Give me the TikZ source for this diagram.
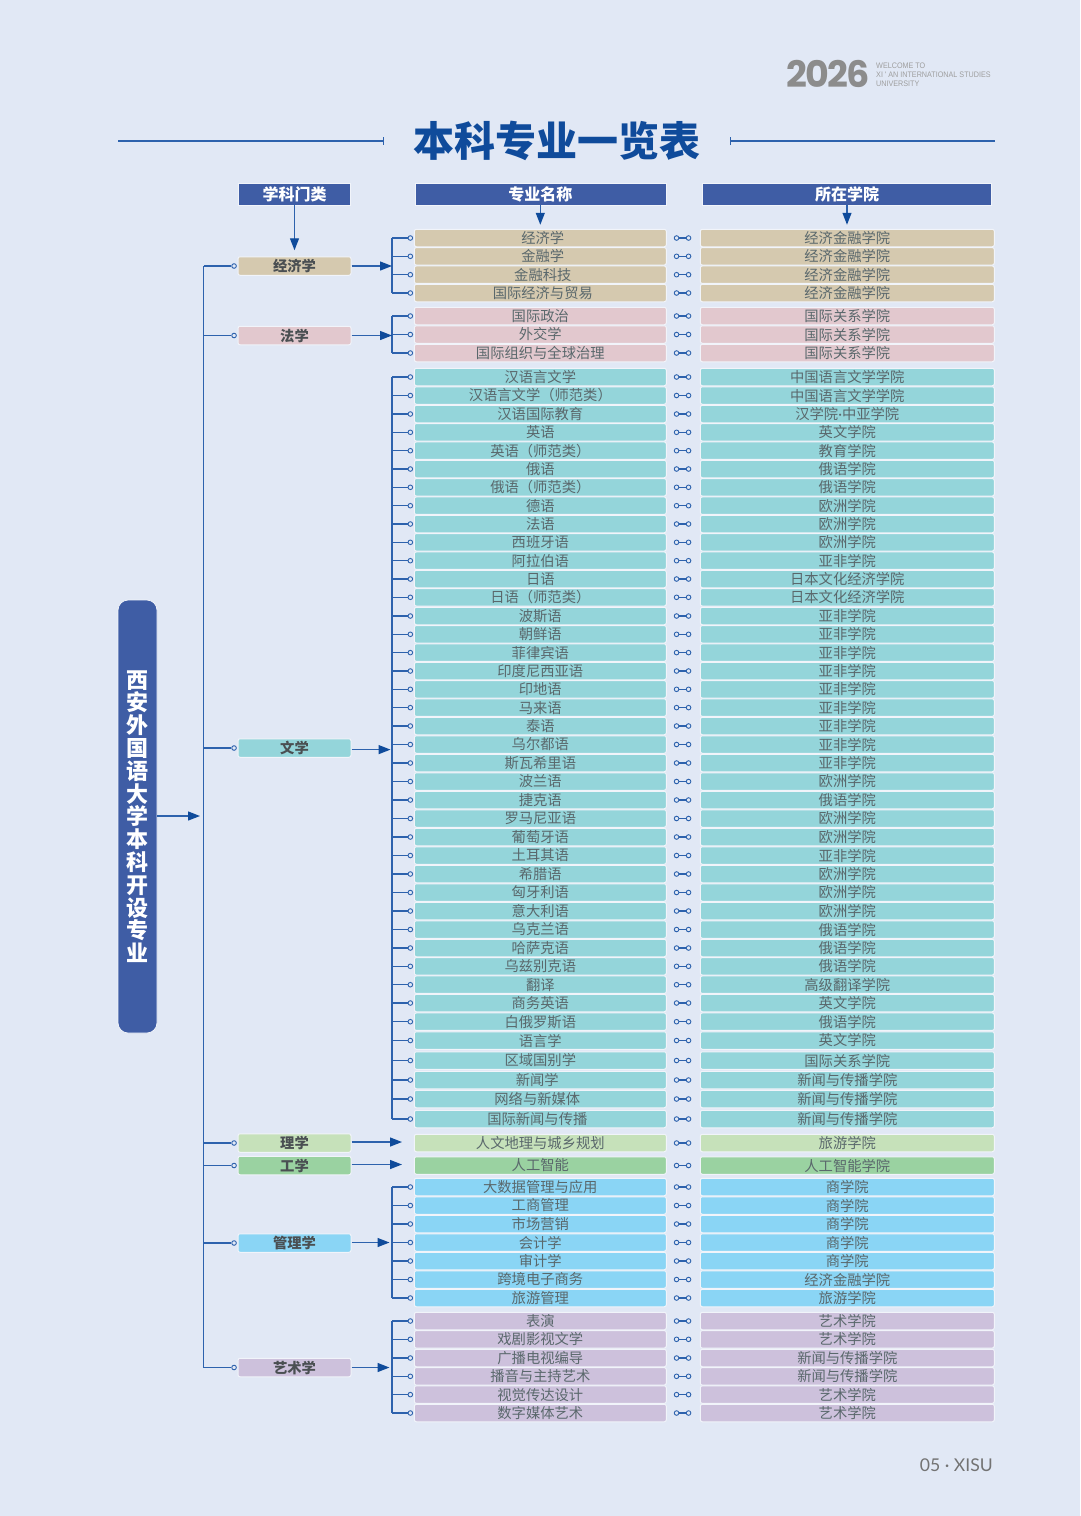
\documentclass[tikz,border=0pt]{standalone}
\usepackage{fontspec}
\setmainfont{Noto Sans CJK SC}
\newfontfamily\latinfont{Lato}
\newfontfamily\heavyfont{Noto Sans CJK SC Black}
\newfontfamily\logofont[LetterSpace=-5]{Poppins}
\newfontfamily\smallfont[FakeStretch=.9]{Liberation Sans}
\usetikzlibrary{positioning,calc,arrows.meta}
\definecolor{pagebg}{HTML}{E1E8F5}
\definecolor{headblue}{HTML}{3F5DA5}
\definecolor{linkblue}{HTML}{2D62AD}
\definecolor{tipblue}{HTML}{0F4B9B}
\definecolor{boxedge}{HTML}{F1F4FA}
\definecolor{rowtext}{HTML}{5A686C}
\definecolor{cattext}{HTML}{4A4F52}
\definecolor{econfill}{HTML}{D5C9AF}
\definecolor{lawfill}{HTML}{E2C8CE}
\definecolor{litfill}{HTML}{94D5DA}
\definecolor{scifill}{HTML}{C6E1BA}
\definecolor{engfill}{HTML}{9AD2A1}
\definecolor{mgtfill}{HTML}{8AD5F5}
\definecolor{artfill}{HTML}{CDC1DC}
\begin{document}
\begin{tikzpicture}[x=1pt,y=-1pt]
    \tikzstyle{every node}=[inner sep=0]
    \tikzstyle{cell}=[rectangle,draw=boxedge,line width=1,rounded corners=2,minimum height=17.5,text=rowtext,font=\fontsize{14.3}{15}\selectfont]
    \tikzstyle{major}=[cell,minimum width=252]
    \tikzstyle{college}=[cell,minimum width=294]
    \tikzstyle{cat}=[cell,minimum width=113,minimum height=18.5,text=cattext,font=\fontsize{14.3}{15}\selectfont\bfseries]
    \tikzstyle{head}=[rectangle,fill=headblue,draw=boxedge,line width=.6,minimum height=22,text=white,font=\fontsize{16}{17}\selectfont\bfseries]
    \tikzstyle{hole}=[circle,draw=linkblue,fill=pagebg,line width=.9,minimum size=4.6]
    \tikzstyle{link}=[draw=linkblue,line width=1.3]
    \tikzstyle{flow}=[link,-{Stealth[length=12pt,width=9pt,inset=0pt,color=tipblue]}]
    \tikzstyle{econ}=[fill=econfill]
    \tikzstyle{law}=[fill=lawfill]
    \tikzstyle{lit}=[fill=litfill]
    \tikzstyle{sci}=[fill=scifill]
    \tikzstyle{eng}=[fill=engfill]
    \tikzstyle{mgt}=[fill=mgtfill]
    \tikzstyle{art}=[fill=artfill]
    \tikzstyle{toright}=[execute at begin node={\hspace*{5pt}}]
    \tikzstyle{toleft}=[execute at end node={\hspace*{6pt}}]

    \fill[pagebg] (0,0) rectangle (1080,1516);

    % logo and page number
    \node[text=black!45,font=\logofont\fontsize{36.5}{36}\selectfont\bfseries] (logo) at (828,74) {2026};
    \node[anchor=west,align=left,text=black!38,font=\smallfont\fontsize{8}{9.2}\selectfont] (welcome) at (876,75) {WELCOME TO\\XI ' AN INTERNATIONAL STUDIES\\UNIVERSITY};
    \node[anchor=east,text=black!55,font=\latinfont\fontsize{17.6}{18}\selectfont] (pageno) at (993,1465) {05 · XISU};

    % title
    \node[text=tipblue,font=\heavyfont\fontsize{41}{42}\selectfont] (title) at (557,141) {本科专业一览表};
    \coordinate (rulea) at (118,141);
    \coordinate (ruleb) at (384,141);
    \coordinate (rulec) at (730,141);
    \coordinate (ruled) at (995,141);
    \draw[link,-{Bar[width=8pt,line width=.8pt]}] (rulea) -- (ruleb);
    \draw[link,{Bar[width=8pt,line width=.8pt]}-] (rulec) -- (ruled);

    % headers
    \node[head,minimum width=112] (hcat) at (294.5,194) {学科门类};
    \node[head,minimum width=251] (hmajor) at (540.3,194) {专业名称};
    \node[head,minimum width=289] (hcollege) at (847,194) {所在学院};

    % root
    \node[rectangle,rounded corners=10,fill=headblue,draw=boxedge,line width=.8,minimum width=39,minimum height=433,align=center,text=white,font=\fontsize{22}{22.8}\selectfont\bfseries] (root) at (137.5,816.5) {西\\安\\外\\国\\语\\大\\学\\本\\科\\开\\设\\专\\业};

    % categories
    \node[cat,econ] (cecon) at (294.5,266) {经济学};
    \node[cat,law] (claw) at (294.5,335.5) {法学};
    \node[cat,lit] (clit) at (294.5,748) {文学};
    \node[cat,sci] (csci) at (294.5,1143) {理学};
    \node[cat,eng] (ceng) at (294.5,1165.5) {工学};
    \node[cat,mgt] (cmgt) at (294.5,1243) {管理学};
    \node[cat,art] (cart) at (294.5,1367.5) {艺术学};

    % rows
    \node[major,econ,toright] (m1) at (540.3,238) {经济学}; \node[college,econ] (k1) at (847.3,238) {经济金融学院};
    \node[major,econ,toright] (m2) at (540.3,256.3) {金融学}; \node[college,econ] (k2) at (847.3,256.3) {经济金融学院};
    \node[major,econ,toright] (m3) at (540.3,274.7) {金融科技}; \node[college,econ] (k3) at (847.3,274.7) {经济金融学院};
    \node[major,econ,toright] (m4) at (540.3,293) {国际经济与贸易}; \node[college,econ] (k4) at (847.3,293) {经济金融学院};
    \node[major,law] (m5) at (540.3,316) {国际政治}; \node[college,law] (k5) at (847.3,316) {国际关系学院};
    \node[major,law] (m6) at (540.3,334.5) {外交学}; \node[college,law] (k6) at (847.3,334.5) {国际关系学院};
    \node[major,law] (m7) at (540.3,353) {国际组织与全球治理}; \node[college,law] (k7) at (847.3,353) {国际关系学院};
    \node[major,lit] (m8) at (540.3,377) {汉语言文学}; \node[college,lit] (k8) at (847.3,377) {中国语言文学学院};
    \node[major,lit] (m9) at (540.3,395.5) {汉语言文学（师范类）}; \node[college,lit] (k9) at (847.3,395.5) {中国语言文学学院};
    \node[major,lit] (m10) at (540.3,414) {汉语国际教育}; \node[college,lit] (k10) at (847.3,414) {汉学院{\latinfont ·}中亚学院};
    \node[major,lit] (m11) at (540.3,432.3) {英语}; \node[college,lit] (k11) at (847.3,432.3) {英文学院};
    \node[major,lit] (m12) at (540.3,450.7) {英语（师范类）}; \node[college,lit] (k12) at (847.3,450.7) {教育学院};
    \node[major,lit] (m13) at (540.3,469) {俄语}; \node[college,lit] (k13) at (847.3,469) {俄语学院};
    \node[major,lit] (m14) at (540.3,487.3) {俄语（师范类）}; \node[college,lit] (k14) at (847.3,487.3) {俄语学院};
    \node[major,lit] (m15) at (540.3,505.7) {德语}; \node[college,lit] (k15) at (847.3,505.7) {欧洲学院};
    \node[major,lit] (m16) at (540.3,524) {法语}; \node[college,lit] (k16) at (847.3,524) {欧洲学院};
    \node[major,lit] (m17) at (540.3,542.3) {西班牙语}; \node[college,lit] (k17) at (847.3,542.3) {欧洲学院};
    \node[major,lit] (m18) at (540.3,560.7) {阿拉伯语}; \node[college,lit] (k18) at (847.3,560.7) {亚非学院};
    \node[major,lit] (m19) at (540.3,579) {日语}; \node[college,lit] (k19) at (847.3,579) {日本文化经济学院};
    \node[major,lit] (m20) at (540.3,597.3) {日语（师范类）}; \node[college,lit] (k20) at (847.3,597.3) {日本文化经济学院};
    \node[major,lit] (m21) at (540.3,616) {波斯语}; \node[college,lit] (k21) at (847.3,616) {亚非学院};
    \node[major,lit] (m22) at (540.3,634.3) {朝鲜语}; \node[college,lit] (k22) at (847.3,634.3) {亚非学院};
    \node[major,lit] (m23) at (540.3,652.6) {菲律宾语}; \node[college,lit] (k23) at (847.3,652.6) {亚非学院};
    \node[major,lit] (m24) at (540.3,671) {印度尼西亚语}; \node[college,lit] (k24) at (847.3,671) {亚非学院};
    \node[major,lit] (m25) at (540.3,689.3) {印地语}; \node[college,lit] (k25) at (847.3,689.3) {亚非学院};
    \node[major,lit] (m26) at (540.3,707.6) {马来语}; \node[college,lit] (k26) at (847.3,707.6) {亚非学院};
    \node[major,lit] (m27) at (540.3,726) {泰语}; \node[college,lit] (k27) at (847.3,726) {亚非学院};
    \node[major,lit] (m28) at (540.3,744.5) {乌尔都语}; \node[college,lit] (k28) at (847.3,744.5) {亚非学院};
    \node[major,lit] (m29) at (540.3,763) {斯瓦希里语}; \node[college,lit] (k29) at (847.3,763) {亚非学院};
    \node[major,lit] (m30) at (540.3,781.5) {波兰语}; \node[college,lit] (k30) at (847.3,781.5) {欧洲学院};
    \node[major,lit] (m31) at (540.3,800) {捷克语}; \node[college,lit] (k31) at (847.3,800) {俄语学院};
    \node[major,lit] (m32) at (540.3,818.5) {罗马尼亚语}; \node[college,lit] (k32) at (847.3,818.5) {欧洲学院};
    \node[major,lit] (m33) at (540.3,837) {葡萄牙语}; \node[college,lit] (k33) at (847.3,837) {欧洲学院};
    \node[major,lit] (m34) at (540.3,855.5) {土耳其语}; \node[college,lit] (k34) at (847.3,855.5) {亚非学院};
    \node[major,lit] (m35) at (540.3,874) {希腊语}; \node[college,lit] (k35) at (847.3,874) {欧洲学院};
    \node[major,lit] (m36) at (540.3,892.5) {匈牙利语}; \node[college,lit] (k36) at (847.3,892.5) {欧洲学院};
    \node[major,lit] (m37) at (540.3,911) {意大利语}; \node[college,lit] (k37) at (847.3,911) {欧洲学院};
    \node[major,lit] (m38) at (540.3,929.5) {乌克兰语}; \node[college,lit] (k38) at (847.3,929.5) {俄语学院};
    \node[major,lit] (m39) at (540.3,948) {哈萨克语}; \node[college,lit] (k39) at (847.3,948) {俄语学院};
    \node[major,lit] (m40) at (540.3,966.3) {乌兹别克语}; \node[college,lit] (k40) at (847.3,966.3) {俄语学院};
    \node[major,lit] (m41) at (540.3,984.7) {翻译}; \node[college,lit] (k41) at (847.3,984.7) {高级翻译学院};
    \node[major,lit] (m42) at (540.3,1003) {商务英语}; \node[college,lit] (k42) at (847.3,1003) {英文学院};
    \node[major,lit] (m43) at (540.3,1021.7) {白俄罗斯语}; \node[college,lit] (k43) at (847.3,1021.7) {俄语学院};
    \node[major,lit] (m44) at (540.3,1040.5) {语言学}; \node[college,lit] (k44) at (847.3,1040.5) {英文学院};
    \node[major,lit] (m45) at (540.3,1060.5) {区域国别学}; \node[college,lit] (k45) at (847.3,1060.5) {国际关系学院};
    \node[major,lit,toleft] (m46) at (540.3,1080) {新闻学}; \node[college,lit] (k46) at (847.3,1080) {新闻与传播学院};
    \node[major,lit,toleft] (m47) at (540.3,1099) {网络与新媒体}; \node[college,lit] (k47) at (847.3,1099) {新闻与传播学院};
    \node[major,lit,toleft] (m48) at (540.3,1119) {国际新闻与传播}; \node[college,lit] (k48) at (847.3,1119) {新闻与传播学院};
    \node[major,sci] (m49) at (540.3,1143) {人文地理与城乡规划}; \node[college,sci] (k49) at (847.3,1143) {旅游学院};
    \node[major,eng] (m50) at (540.3,1165.5) {人工智能}; \node[college,eng] (k50) at (847.3,1165.5) {人工智能学院};
    \node[major,mgt] (m51) at (540.3,1187) {大数据管理与应用}; \node[college,mgt] (k51) at (847.3,1187) {商学院};
    \node[major,mgt] (m52) at (540.3,1205.5) {工商管理}; \node[college,mgt] (k52) at (847.3,1205.5) {商学院};
    \node[major,mgt] (m53) at (540.3,1224) {市场营销}; \node[college,mgt] (k53) at (847.3,1224) {商学院};
    \node[major,mgt] (m54) at (540.3,1242.5) {会计学}; \node[college,mgt] (k54) at (847.3,1242.5) {商学院};
    \node[major,mgt] (m55) at (540.3,1261) {审计学}; \node[college,mgt] (k55) at (847.3,1261) {商学院};
    \node[major,mgt] (m56) at (540.3,1279.5) {跨境电子商务}; \node[college,mgt] (k56) at (847.3,1279.5) {经济金融学院};
    \node[major,mgt] (m57) at (540.3,1298) {旅游管理}; \node[college,mgt] (k57) at (847.3,1298) {旅游学院};
    \node[major,art] (m58) at (540.3,1321) {表演}; \node[college,art] (k58) at (847.3,1321) {艺术学院};
    \node[major,art] (m59) at (540.3,1339.3) {戏剧影视文学}; \node[college,art] (k59) at (847.3,1339.3) {艺术学院};
    \node[major,art] (m60) at (540.3,1358) {广播电视编导}; \node[college,art] (k60) at (847.3,1358) {新闻与传播学院};
    \node[major,art] (m61) at (540.3,1376.3) {播音与主持艺术}; \node[college,art] (k61) at (847.3,1376.3) {新闻与传播学院};
    \node[major,art] (m62) at (540.3,1394.6) {视觉传达设计}; \node[college,art] (k62) at (847.3,1394.6) {艺术学院};
    \node[major,art] (m63) at (540.3,1413) {数字媒体艺术}; \node[college,art] (k63) at (847.3,1413) {艺术学院};

    % small connectors between the two columns
    \foreach \i in {1,...,63} {
        \node[hole,right=7pt of m\i] (a\i) {};
        \node[hole,left=8.5pt of k\i] (b\i) {};
        \draw[link] (a\i) -- (b\i);
    }
    \foreach \i in {1,...,48,51,52,...,63} {
        \node[hole,left=.7pt of m\i] (d\i) {};
    }

    % brackets
    \coordinate (tecon) at (392,266);
    \coordinate (tlaw) at (392,335.5);
    \coordinate (tlit) at (390.5,749.6);
    \coordinate (tmgt) at (392,1242.5);
    \coordinate (tart) at (392,1367.5);
    \foreach \i in {1,...,4} \draw[link] (d\i) -- (d\i -| tecon);
    \foreach \i in {5,6,7} \draw[link] (d\i) -- (d\i -| tlaw);
    \foreach \i in {8,...,48} \draw[link] (d\i) -- (d\i -| tecon);
    \foreach \i in {51,...,57} \draw[link] (d\i) -- (d\i -| tmgt);
    \foreach \i in {58,...,63} \draw[link] (d\i) -- (d\i -| tart);
    \draw[link,line cap=square] (d1 -| tecon) -- (d4 -| tecon);
    \draw[link,line cap=square] (d5 -| tlaw) -- (d7 -| tlaw);
    \draw[link,line cap=square] (d8 -| tecon) -- (d48 -| tecon);
    \draw[link,line cap=square] (d51 -| tmgt) -- (d57 -| tmgt);
    \draw[link,line cap=square] (d58 -| tart) -- (d63 -| tart);

    % category arrows
    \coordinate (tsci) at (402,1142);
    \coordinate (teng) at (402,1164.5);
    \draw[flow] (cecon.east |- tecon) -- (tecon);
    \draw[flow] (claw.east |- tlaw) -- (tlaw);
    \draw[flow] (clit.east |- tlit) -- (tlit);
    \draw[flow] (csci.east |- tsci) -- (tsci);
    \draw[flow] (ceng.east |- teng) -- (teng);
    \draw[flow,shorten >=2.5pt] (cmgt.east |- tmgt) -- (tmgt);
    \draw[flow,shorten >=2.5pt] (cart.east |- tart) -- (tart);

    % spine
    \coordinate (spine) at (203.5,816);
    \foreach \c in {cecon,claw,clit,csci,ceng,cmgt,cart} {
        \node[hole,left=.7pt of \c] (p\c) {};
        \draw[link] (p\c) -- (p\c -| spine);
    }
    \draw[link,line cap=square] (pcecon -| spine) -- (pcart -| spine);
    \coordinate (spinetip) at (200,816);
    \draw[flow] (root.east |- spinetip) -- (spinetip);

    % header arrows
    \draw[flow,shorten >=6pt] (hcat) -- (cecon);
    \draw[flow,shorten >=4pt] (hmajor) -- (m1.north -| hmajor);
    \draw[flow,shorten >=4pt] (hcollege) -- (k1.north -| hcollege);
\end{tikzpicture}
\end{document}
